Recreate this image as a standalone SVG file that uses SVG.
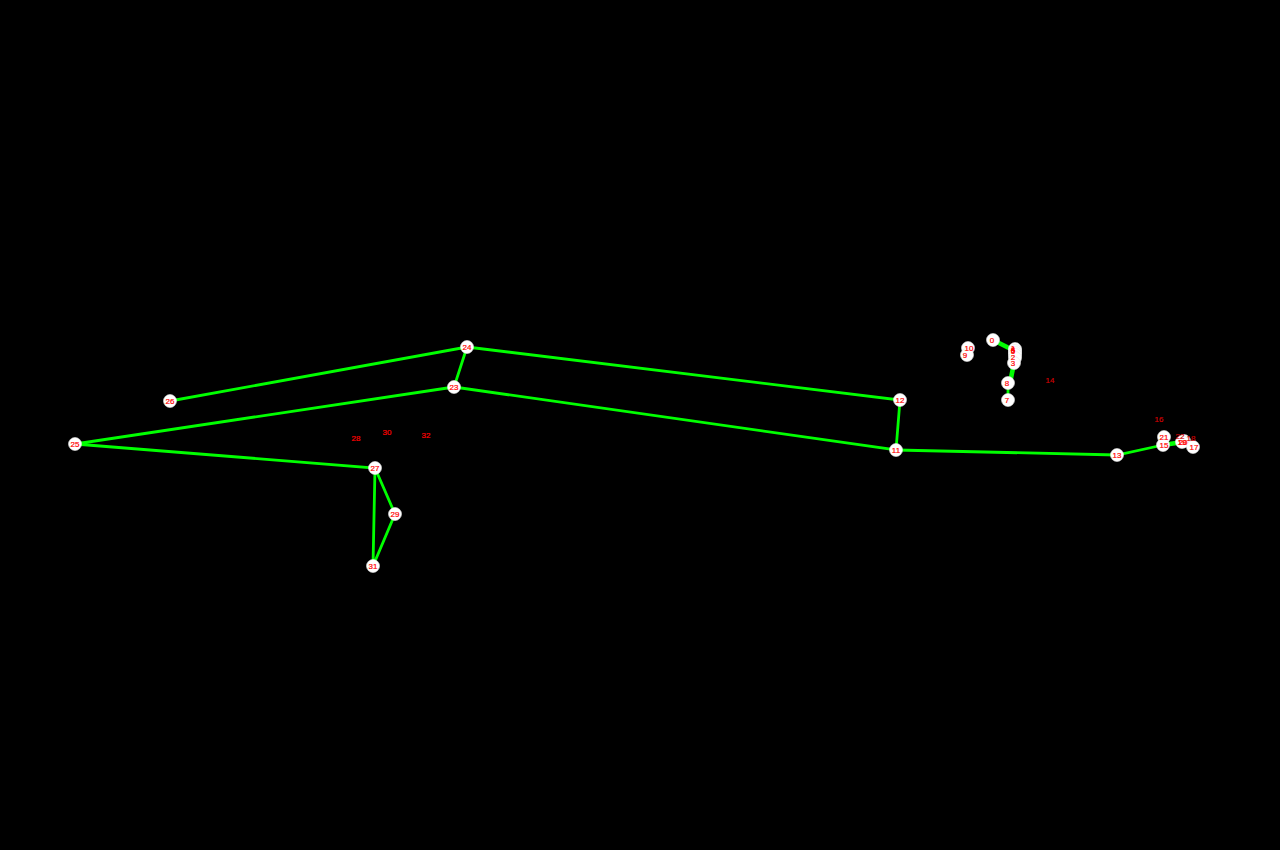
<svg xmlns="http://www.w3.org/2000/svg" width="1280" height="850" viewBox="0 0 1280 850">
<style>
.bg{fill:#000}
.e{stroke:#0f0;stroke-width:2.8;fill:none;stroke-linecap:round}
.t{stroke-width:4.6}
circle{fill:#fff;stroke:#e8e8e8;stroke-width:.6}
text{fill:#f00;font-family:"Liberation Sans",Arial,sans-serif;font-size:8px;text-anchor:middle;dominant-baseline:central;stroke:#f00;stroke-width:.2}
.d{fill:#c00;stroke:#c00}
</style>
<rect class="bg" width="1280" height="850"/>
<g id="connectors">
<path class="e t" d="M993 340L1015 351"/>
<path class="e t" d="M1014 363L1010 383"/>
<path class="e" d="M1008 383L1008 400"/>
<path class="e" d="M170 401L467 347L900 400L896 450L454 387L467 347"/>
<path class="e" d="M454 387L75 444L375 468L395 514L373 566L375 468"/>
<path class="e" d="M896 450L1117 455L1163 445"/>
<path class="e t" d="M1163 445L1183 442"/>
<path class="e" d="M1183 442L1193 447"/>
</g>
<g id="halo">
<circle cx="1015" cy="349" r="6.5"/><circle cx="1015" cy="351" r="6.5"/><circle cx="1015" cy="353" r="6.5"/><circle cx="1015" cy="355" r="6.5"/><circle cx="1015" cy="358" r="6.5"/><circle cx="1014" cy="363" r="6.5"/>
<circle cx="1164" cy="437" r="6.5"/><circle cx="1163" cy="445" r="6.5"/><circle cx="1184" cy="441" r="6.5"/><circle cx="1182" cy="442" r="6.5"/><circle cx="1193" cy="447" r="6.5"/>
<circle cx="968" cy="348" r="6.5"/><circle cx="967" cy="355" r="6.5"/>
</g>
<g id="n0"><circle cx="993" cy="340" r="6.5"/><text x="992" y="340">0</text></g>
<g id="n1"><text x="1013" y="348">1</text></g>
<g id="n4"><text x="1013" y="349">4</text></g>
<g id="n5"><text x="1013" y="350">5</text></g>
<g id="n6"><text x="1013" y="351">6</text></g>
<g id="n2"><text x="1013" y="357">2</text></g>
<g id="n3"><text x="1013" y="363">3</text></g>
<g id="n8"><circle cx="1008" cy="383" r="6.5"/><text x="1007" y="383">8</text></g>
<g id="n7"><circle cx="1008" cy="400" r="6.5"/><text x="1007" y="400">7</text></g>
<g id="n9"><text x="965" y="355">9</text></g>
<g id="n10"><text x="969" y="348">10</text></g>
<g id="n14"><text class="d" x="1050" y="380">14</text></g>
<g id="n16"><text class="d" x="1159" y="419">16</text></g>
<g id="n22"><text class="d" x="1180" y="436">22</text></g>
<g id="n18"><text class="d" x="1191" y="438">18</text></g>
<g id="n21"><text x="1164" y="437">21</text></g>
<g id="n15"><text x="1164" y="445">15</text></g>
<g id="n20"><text x="1183" y="442">20</text></g>
<g id="n19"><text x="1182" y="442">19</text></g>
<g id="n17"><text x="1194" y="447">17</text></g>
<g id="n11"><circle cx="896" cy="450" r="6.5"/><text x="896" y="450">11</text></g>
<g id="n12"><circle cx="900" cy="400" r="6.5"/><text x="900" y="400">12</text></g>
<g id="n13"><circle cx="1117" cy="455" r="6.5"/><text x="1117" y="455">13</text></g>
<g id="n23"><circle cx="454" cy="387" r="6.5"/><text x="454" y="387">23</text></g>
<g id="n24"><circle cx="467" cy="347" r="6.5"/><text x="467" y="347">24</text></g>
<g id="n25"><circle cx="75" cy="444" r="6.5"/><text x="75" y="444">25</text></g>
<g id="n26"><circle cx="170" cy="401" r="6.5"/><text x="170" y="401">26</text></g>
<g id="n27"><circle cx="375" cy="468" r="6.5"/><text x="375" y="468">27</text></g>
<g id="n29"><circle cx="395" cy="514" r="6.5"/><text x="395" y="514">29</text></g>
<g id="n31"><circle cx="373" cy="566" r="6.5"/><text x="373" y="566">31</text></g>
<g id="n28"><text x="356" y="438">28</text></g>
<g id="n30"><text x="387" y="432">30</text></g>
<g id="n32"><text x="426" y="435">32</text></g>
</svg>
